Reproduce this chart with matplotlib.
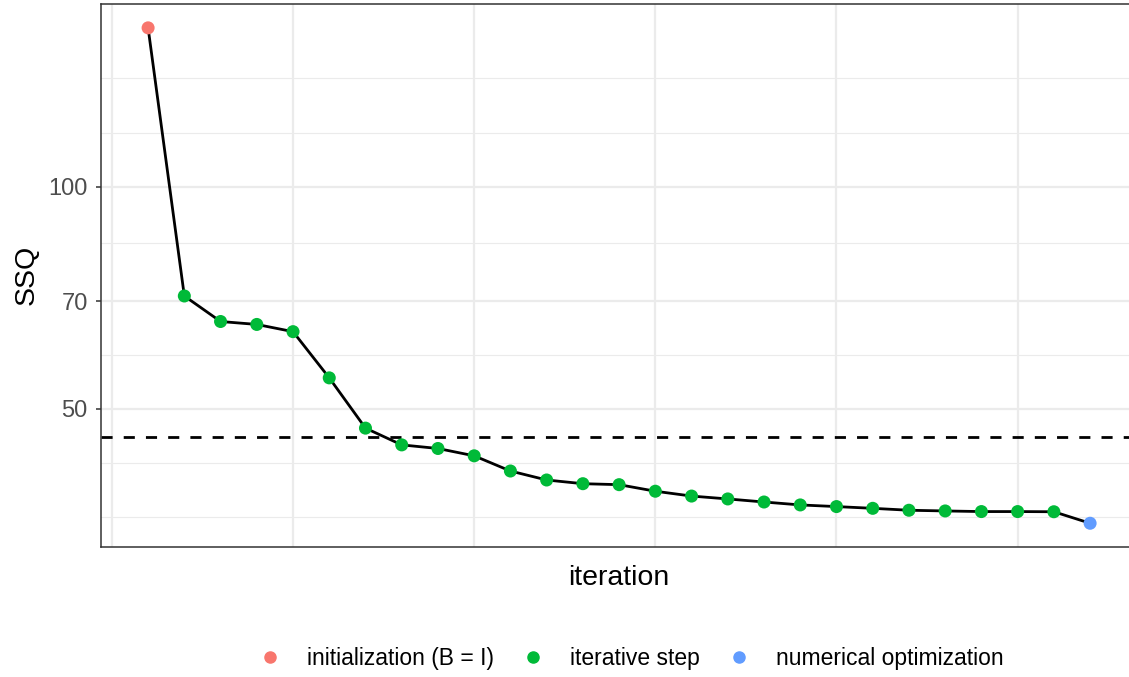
import matplotlib
matplotlib.use("Agg")
import matplotlib.pyplot as plt
from matplotlib.lines import Line2D

plt.rcParams["font.family"] = ["Liberation Sans", "DejaVu Sans"]

# ---- data ----
iteration = list(range(1, 28))
ssq = [164.3, 71.15, 65.7, 65.1, 63.65, 55.1, 47.1, 44.7, 44.2, 43.2,
       41.2, 40.06, 39.6, 39.48, 38.68, 38.1, 37.76, 37.4, 37.06, 36.87,
       36.67, 36.45, 36.37, 36.3, 36.3, 36.28, 35.0]
step = ["initialization (B = I)"] + ["iterative step"] * 25 + ["numerical optimization"]
reference_ssq = 45.85

step_names = ["initialization (B = I)", "iterative step", "numerical optimization"]
step_colors = ["#F8766D", "#00BA38", "#619CFF"]

y_breaks = [50, 70, 100]
y_minor = [35.7, 42.3, 59.2, 84.0, 118.4, 140.5]
x_breaks = [0, 5, 10, 15, 20, 25]

W, H = 1129, 677
fig = plt.figure(figsize=(W / 100, H / 100), dpi=100)
ax = fig.add_axes([101 / W, (H - 546.7) / H, 1036.2 / W, 542.7 / H])

ax.set_yscale("log")
ax.set_xlim(1 - 1.3, 27 + 1.3)
ax.set_ylim(32.53, 177.0)

# grid
for v in y_minor:
    ax.axhline(v, color="#EBEBEB", lw=0.8, zorder=0)
for v in y_breaks:
    ax.axhline(v, color="#EBEBEB", lw=1.6, zorder=0)
for v in x_breaks:
    ax.axvline(v, color="#EBEBEB", lw=1.6, zorder=0)

ax.axhline(reference_ssq, color="black", lw=2.0, ls=(0, (4, 4)), zorder=2)
ax.plot(iteration, ssq, color="black", lw=2.0, zorder=3)

cmap = dict(zip(step_names, step_colors))
ax.scatter(iteration, ssq, c=[cmap[s] for s in step], s=88, zorder=4, linewidths=0)

ax.minorticks_off()
ax.set_yticks(y_breaks)
ax.set_yticklabels([str(v) for v in y_breaks])
ax.set_xticks(x_breaks)
ax.set_xticklabels([])
ax.tick_params(axis="x", length=0)
ax.tick_params(axis="y", length=3.6, width=1.1, color="#333333", labelsize=17,
               labelcolor="#4D4D4D", pad=6)

for s in ax.spines.values():
    s.set_color("#333333")
    s.set_linewidth(1.1)

ax.set_ylabel("SSQ", fontsize=20.5, labelpad=6)
ax.set_xlabel("iteration", fontsize=20.5, labelpad=10)

handles = [Line2D([], [], marker="o", ls="", color=c, markersize=8) for c in step_colors]
fig.legend(handles, step_names, loc="center", bbox_to_anchor=(631 / W, 1 - 659 / H),
           ncol=3, frameon=False, fontsize=16.5, handlelength=1.0, handletextpad=1.12,
           columnspacing=1.2)

fig.savefig("out.png", dpi=100)
